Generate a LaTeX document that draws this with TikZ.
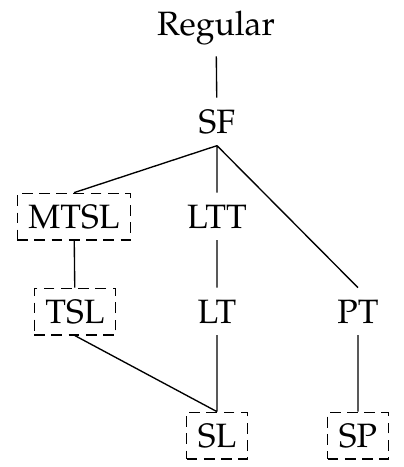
\documentclass[tikz,border=0pt]{standalone}
\usepackage[T1]{fontenc}
\usepackage{mathpazo}
\begin{document}
\begin{tikzpicture}[x=0.296pt,y=-0.296pt,
    cls/.style={inner sep=3.33pt,anchor=base},
    dbox/.style={cls,draw,dash pattern=on 3.2pt off 1.9pt}]
    \useasboundingbox (0,0) rectangle (404,467);
    \node[cls] (reg) at (216,35) {Regular};
    \node[cls] (sf) at (217,133) {SF};
    \node[dbox] (mtsl) at (74,228) {MTSL};
    \node[cls] (ltt) at (217,228) {LTT};
    \node[dbox] (tsl) at (75,323) {TSL};
    \node[cls] (lt) at (217,323) {LT};
    \node[cls] (pt) at (358,323) {PT};
    \node[dbox] (sl) at (217,447) {SL};
    \node[dbox] (sp) at (358,447) {SP};
    \draw (reg) -- (sf);
    \draw (sf.south) -- (mtsl.north) (sf.south) -- (ltt.north) (sf.south) -- (pt.north);
    \draw (mtsl) -- (tsl) (ltt) -- (lt) (pt) -- (sp);
    \draw (tsl.south) -- (sl.north) (lt) -- (sl.north);
  \end{tikzpicture}
\end{document}
